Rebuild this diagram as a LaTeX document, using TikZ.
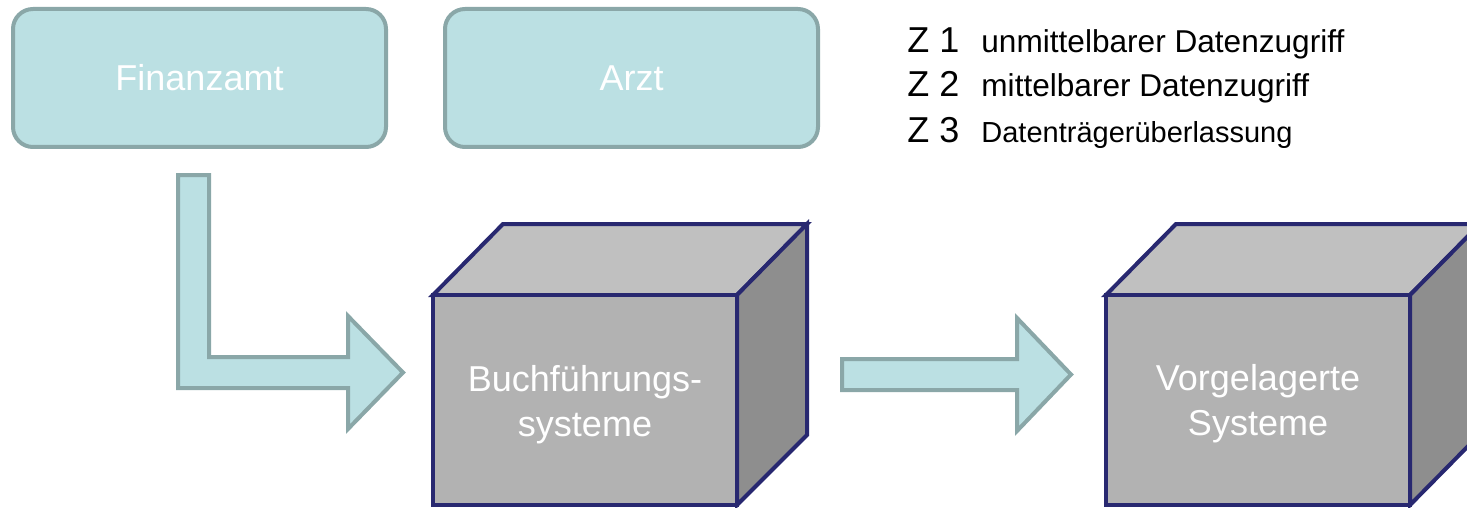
\documentclass[tikz,border=0pt]{standalone}
\usepackage{fontspec}
\setmainfont{Liberation Sans}
\definecolor{tealfill}{RGB}{187,224,227}
\definecolor{tealline}{RGB}{138,167,168}
\definecolor{navy}{RGB}{40,40,112}
\definecolor{topgray}{RGB}{192,192,192}
\definecolor{frontgray}{RGB}{178,178,178}
\definecolor{sidegray}{RGB}{142,142,142}
\tikzset{
  tealbox/.style={draw=tealline, fill=tealfill, line width=2pt, rounded corners=10pt,
    text=white, font=\fontsize{18}{21}\selectfont, inner sep=0pt,
    minimum width=186.5pt, minimum height=69pt},
  blockarrow/.style={draw=tealline, fill=tealfill, line width=2pt},
  cubeedge/.style={draw=navy, line width=2pt},
  frontface/.style={cubeedge, fill=frontgray, minimum width=152pt, minimum height=105pt, inner sep=0pt},
  cubetext/.style={text=white, align=center, font=\fontsize{18}{22.5}\selectfont, inner sep=0pt},
  zlabel/.style={anchor=base west, inner sep=0pt, font=\fontsize{18}{21}\selectfont},
  zdesc/.style={anchor=base west, inner sep=0pt, font=\fontsize{15.8}{18}\selectfont},
}
\begin{document}
\begin{tikzpicture}[x=0.5pt,y=-0.5pt]
\useasboundingbox (0,0) rectangle (1467,508);
\clip (0,0) rectangle (1467,508);

% top boxes
\node[tealbox] (fa) at (199.5,78) {Finanzamt};
\node[tealbox] (arzt) at (631.5,78) {Arzt};

% L-shaped block arrow
\draw[blockarrow] (178,175) -- (209,175) -- (209,357) -- (348,357) -- (348,316)
  -- (403,372.5) -- (348,429) -- (348,388) -- (178,388) -- cycle;

% straight block arrow
\draw[blockarrow] (842,359) -- (1017,359) -- (1017,318) -- (1071,374.5)
  -- (1017,431) -- (1017,390) -- (842,390) -- cycle;

% cube 1
\draw[cubeedge, fill=topgray] (433,295) -- (503,224) -- (807,224) -- (737,295) -- cycle;
\draw[cubeedge, fill=sidegray] (737,295) -- (807,224) -- (807,435) -- (737,505) -- cycle;
\node[frontface] (bs) at (585,400) {};
\node[cubetext] (bst) at (585,405) {Buchführungs-\\systeme};

% cube 2
\draw[cubeedge, fill=topgray] (1106,295) -- (1176,224) -- (1480,224) -- (1410,295) -- cycle;
\draw[cubeedge, fill=sidegray] (1410,295) -- (1480,224) -- (1480,434) -- (1410,505) -- cycle;
\node[frontface] (vs) at (1258,400) {};
\node[cubetext] (vst) at (1258,404) {Vorgelagerte\\Systeme};

% legend
\node[zlabel] (z1) at (907,53) {Z 1};
\node[zlabel] (z2) at (907,97) {Z 2};
\node[zlabel] (z3) at (907,142) {Z 3};
\node[zdesc] (d1) at (981,53) {unmittelbarer Datenzugriff};
\node[zdesc] (d2) at (981,97) {mittelbarer Datenzugriff};
\node[zdesc, font=\fontsize{14.5}{17}\selectfont] (d3) at (981,142) {Datenträgerüberlassung};
\end{tikzpicture}
\end{document}
